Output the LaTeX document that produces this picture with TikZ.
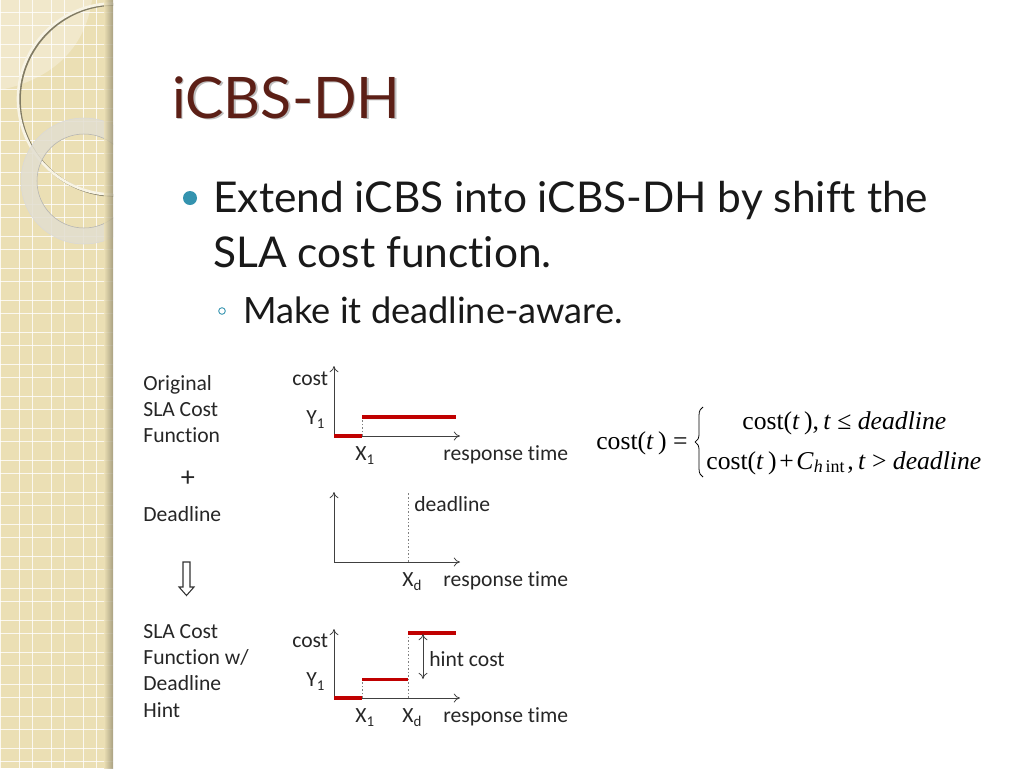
\documentclass[tikz,border=0pt]{standalone}
\usepackage{fontspec}
\setmainfont[Ligatures={NoCommon}]{Carlito}
\newfontfamily\bodyfont[Ligatures={NoCommon}]{Lato}
\newfontfamily\mathfont{Liberation Serif}
\usetikzlibrary{positioning,decorations.pathreplacing,arrows.meta}
\definecolor{panel}{HTML}{EBDFB4}
\definecolor{panellight}{HTML}{F1E8CB}
\definecolor{ringgray}{HTML}{E2DED0}
\definecolor{titlecol}{HTML}{5C1F16}
\definecolor{teal}{HTML}{3493AF}
\definecolor{redline}{HTML}{C00000}
\definecolor{axiscol}{HTML}{404040}
\newcommand{\lowsub}[1]{\raisebox{-0.4ex}{\fontsize{8.5}{9}\selectfont #1}}
\tikzset{
	lbl/.style={anchor=base west,inner sep=0pt,font=\fontsize{12.3}{14}\selectfont,text=black!85},
	body/.style={anchor=base west,inner sep=0pt,text=black!90},
	eq/.style={anchor=base west,inner sep=0pt,font=\mathfont\fontsize{14.6}{16}\selectfont},
	axis/.style={draw=axiscol,line width=0.45pt,-{To[length=3.5pt,width=5pt]}},
	costline/.style={draw=redline,line width=1.9pt},
	guide/.style={draw=gray,line width=0.4pt,dash pattern=on 1pt off 1pt},
	gridline/.style={draw=white,line width=0.5pt,opacity=0.8}
}
\begin{document}
\begin{tikzpicture}[x=0.02cm,y=-0.02cm]
	\useasboundingbox (0,0) rectangle (1024,768);
	% panel
	\fill[panel] (0,0) rectangle (113,768);
	\fill[panellight] (0,90) .. controls (50,80) and (85,50) .. (92,0) -- (0,0) -- cycle;
	\foreach \y in {12,44,...,780}
	\draw[gridline] (0,\y) -- (113,\y);
	\foreach \y in {25,57,...,780}
	\draw[gridline] (0,\y) -- (113,\y);
	\foreach \x in {0,19,32,51,64,83,96}
	\draw[gridline] (\x,0) -- (\x,768);
	\begin{scope}
		\clip (0,0) rectangle (113,768);
		\draw[black!45!panel,line width=1.5pt] (115,100) circle [radius=95.5];
		\draw[panellight!50!white,line width=1.5pt] (113.5,99) circle [radius=95.5];
		\fill[ringgray,opacity=0.85,even odd rule] (84,181) circle [radius=63] (84,181) circle [radius=47];
		\draw[black!30,line width=0.3pt] (84,181) circle [radius=47];
		\draw[black!15,line width=0.3pt] (84,181) circle [radius=63];
	\end{scope}
	\shade[left color=panel,right color=black!35!panel,opacity=0.8] (104,0) rectangle (113,768);
	% title and text
	\node[body,text=black!25,font=\bodyfont\fontsize{32.6}{36}\selectfont] (titleshadow) at (173.5,119.5) {iCBS-DH};
	\node[body,text=titlecol,font=\bodyfont\fontsize{32.6}{36}\selectfont] (title) at (172,118) {iCBS-DH};
	\fill[teal] (190,198) circle [radius=7];
	\draw[teal,line width=0.5pt] (222,311) circle [radius=3.3];
	\node[body,font=\bodyfont\fontsize{24.15}{28}\selectfont] (line1) at (213,212) {Extend iCBS into iCBS-DH by shift the};
	\node[body,font=\bodyfont\fontsize{24.15}{28}\selectfont] (line2) at (213,267) {SLA cost function.};
	\node[body,font=\bodyfont\fontsize{20.6}{24}\selectfont] (line3) at (243,323) {Make it deadline-aware.};
	% left labels
	\node[lbl] (orig1) at (143,390) {Original};
	\node[lbl] (orig2) at (143,416) {SLA Cost};
	\node[lbl] (orig3) at (143,442) {Function};
	\node[lbl,font=\fontsize{16}{16}\selectfont] (plus) at (180.5,486) {+};
	\node[lbl] (dead) at (143,521) {Deadline};
	\node[lbl] (res1) at (143,638) {SLA Cost};
	\node[lbl] (res2) at (143,664) {Function w/};
	\node[lbl] (res3) at (143,690) {Deadline};
	\node[lbl] (res4) at (143,717) {Hint};
	\draw[black!80,line width=0.6pt] (183,562) -- (190,562) -- (190,587) -- (194,587) -- (186.5,595.5) -- (179,587) -- (183,587) -- cycle;
	% top plot
	\coordinate (oa) at (334,436);
	\coordinate (ya) at (334,366);
	\coordinate (xa) at (460,436);
	\coordinate (xa1) at (362,436);
	\coordinate (ca1) at (362,417);
	\coordinate (ca2) at (456,417);
	\draw[axis] (oa) -- (ya);
	\draw[axis] (oa) -- (xa);
	\draw[guide] (xa1) -- (ca1);
	\draw[costline] (oa) -- (xa1);
	\draw[costline] (ca1) -- (ca2);
	\node[lbl] (costa) at (292,385) {cost};
	\node[lbl] (ya1) at (306,424) {Y\lowsub{1}};
	\node[lbl] (xl1) at (355,460) {X\lowsub{1}};
	\node[lbl] (rta) at (443,460) {response time};
	% middle plot
	\coordinate (ob) at (334,562);
	\coordinate (yb) at (334,492);
	\coordinate (xb) at (460,562);
	\coordinate (db) at (408,562);
	\coordinate (dbt) at (408,492);
	\draw[axis] (ob) -- (yb);
	\draw[axis] (ob) -- (xb);
	\draw[guide] (db) -- (dbt);
	\node[lbl] (deadl) at (414,511) {deadline};
	\node[lbl] (xdb) at (402,586) {X\lowsub{d}};
	\node[lbl] (rtb) at (443,586) {response time};
	% bottom plot
	\coordinate (oc) at (334,698);
	\coordinate (yc) at (334,629);
	\coordinate (xc) at (460,698);
	\coordinate (xc1) at (362,698);
	\coordinate (cc1) at (362,679.5);
	\coordinate (xc2) at (408,698);
	\coordinate (cc2) at (408,679.5);
	\coordinate (cc3) at (408,633);
	\coordinate (cc4) at (456,633);
	\coordinate (ha) at (423,634);
	\coordinate (hb) at (423,679);
	\draw[axis] (oc) -- (yc);
	\draw[axis] (oc) -- (xc);
	\draw[guide] (xc1) -- (cc1);
	\draw[guide] (xc2) -- (cc3);
	\draw[costline] (oc) -- (xc1);
	\draw[costline] (cc1) -- (cc2);
	\draw[costline] (cc3) -- (cc4);
	\draw[axis,{To[length=3.5pt,width=5pt]}-{To[length=3.5pt,width=5pt]}] (ha) -- (hb);
	\node[lbl] (costc) at (292,647) {cost};
	\node[lbl] (yc1) at (306,686) {Y\lowsub{1}};
	\node[lbl] (hint) at (429,666) {hint cost};
	\node[lbl] (xl2) at (355,722) {X\lowsub{1}};
	\node[lbl] (xdc) at (402,722) {X\lowsub{d}};
	\node[lbl] (rtc) at (443,722) {response time};
	% formula
	\node[eq] (eqleft) at (596,449) {cost(\textit{t}\,) =};
	\node[eq] (eqtop) at (742,429) {cost(\textit{t}\,),\,\textit{t} ≤ \textit{deadline}};
	\node[eq] (eqbot) at (706,469) {cost(\textit{t}\,)\kern1.5pt+\kern1.5pt\textit{C}\textsubscript{\textit{h}\,int}\kern1pt,\,\textit{t} > \textit{deadline}};
	\coordinate (bra) at (703,407);
	\coordinate (brb) at (703,477);
	\draw[black,line width=0.45pt,decorate,decoration={brace,amplitude=4.5pt}] (brb) -- (bra);
\end{tikzpicture}
\end{document}
